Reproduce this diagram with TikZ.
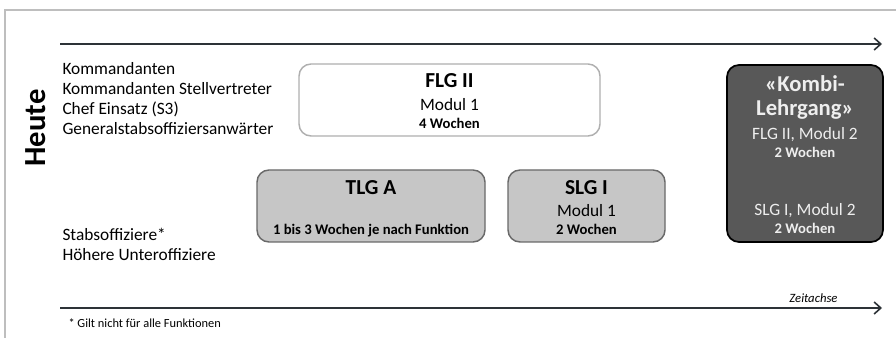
\documentclass[tikz,border=0pt]{standalone}
\usepackage{fontspec}
\setmainfont{Carlito}
\usetikzlibrary{arrows.meta}

\definecolor{framegray}{RGB}{190,190,190}
\definecolor{axisgray}{RGB}{45,50,55}
\definecolor{lightfill}{RGB}{198,198,198}
\definecolor{midline}{RGB}{105,105,105}
\definecolor{paleline}{RGB}{175,175,175}
\definecolor{darkfill}{RGB}{88,88,88}
\definecolor{paletext}{RGB}{238,238,238}

\tikzset{every picture/.style={line width=0.75pt}}
\tikzset{
  axis/.style={draw=axisgray, line width=1pt, -{Straight Barb[length=5pt,width=9pt,line width=1.2pt]}},
  course/.style={rounded corners=9pt, line width=1.1pt, inner sep=0pt},
  rolelist/.style={anchor=base west, inner sep=0pt, align=left, font=\fontsize{13}{15}\selectfont},
  title/.style={anchor=base, inner sep=0pt, font=\fontsize{16}{19}\selectfont\bfseries},
  sub/.style={anchor=base, inner sep=0pt, font=\fontsize{13}{15}\selectfont},
  weeks/.style={anchor=base, inner sep=0pt, font=\fontsize{11}{13}\selectfont\bfseries},
  kombititle/.style={title, text=paletext, font=\fontsize{17}{20}\selectfont\bfseries},
}

\begin{document}
\begin{tikzpicture}[x=0.75pt,y=0.75pt,yscale=-1,xscale=1]
\useasboundingbox (0,0) rectangle (896,338);

		% frame of the page
		\draw [framegray, line width=0.8pt] (5,338) -- (5,10) -- (896,10) ;

		% time axes
		\coordinate (top0) at (60,44);
		\coordinate (top1) at (882,44);
		\coordinate (bot0) at (60,308);
		\coordinate (bot1) at (882,308);
		\draw [axis] (top0) -- (top1) ;
		\draw [axis] (bot0) -- (bot1) ;
		\node (axislabel) [anchor=base east, inner sep=0pt, font=\fontsize{9.5}{11}\selectfont\itshape] at (838,303) {Zeitachse};

		\node (heute) [rotate=90, inner sep=0pt, font=\fontsize{23}{27}\selectfont\bfseries] at (36,128) {Heute};

		% roles
		\node (chefs) [rolelist] at (62,74.5) {Kommandanten};
		\node (stv) [rolelist] at (62,94.5) {Kommandanten Stellvertreter};
		\node (s3) [rolelist] at (62,114.5) {Chef Einsatz (S3)};
		\node (gsa) [rolelist] at (62,134.5) {Generalstabsoffiziersanwärter};
		\node (stabsof) [rolelist] at (62,240.5) {Stabsoffiziere*};
		\node (huof) [rolelist] at (62,261) {Höhere Unteroffiziere};

		% courses
		\node (flg) [course, draw=paleline, fill=white, minimum width=301*0.75pt, minimum height=72*0.75pt] at (449.5,100) {};
		\node (flgt) [title] at (449.5,88) {FLG II};
		\node (flgm) [sub] at (449.5,111) {Modul 1};
		\node (flgw) [weeks] at (449.5,129) {4 Wochen};

		\node (tlg) [course, draw=midline, fill=lightfill, minimum width=228*0.75pt, minimum height=72*0.75pt] at (371,206) {};
		\node (tlgt) [title] at (371,195) {TLG A};
		\node (tlgw) [weeks] at (371,235) {1 bis 3 Wochen je nach Funktion};

		\node (slg) [course, draw=midline, fill=lightfill, minimum width=157*0.75pt, minimum height=72*0.75pt] at (586.5,206) {};
		\node (slgt) [title] at (586.5,195) {SLG I};
		\node (slgm) [sub] at (586.5,216.5) {Modul 1};
		\node (slgw) [weeks] at (586.5,234.5) {2 Wochen};

		\node (kombi) [course, draw=black, fill=darkfill, line width=1.3pt, minimum width=156*0.75pt, minimum height=177*0.75pt] at (805,153.5) {};
		\node (kombit) [kombititle] at (805,92) {«Kombi-};
		\node (kombil) [kombititle] at (805,115.5) {Lehrgang»};
		\node (kombif) [sub, text=paletext] at (805,140) {FLG II, Modul 2};
		\node (kombifw) [weeks, text=paletext] at (805,157.5) {2 Wochen};
		\node (kombis) [sub, text=paletext] at (805,216) {SLG I, Modul 2};
		\node (kombisw) [weeks, text=paletext] at (805,234) {2 Wochen};

		% footnote
		\node (note) [anchor=base west, inner sep=0pt, font=\fontsize{9.3}{11}\selectfont] at (68,327) {* Gilt nicht für alle Funktionen};

\end{tikzpicture}
\end{document}
